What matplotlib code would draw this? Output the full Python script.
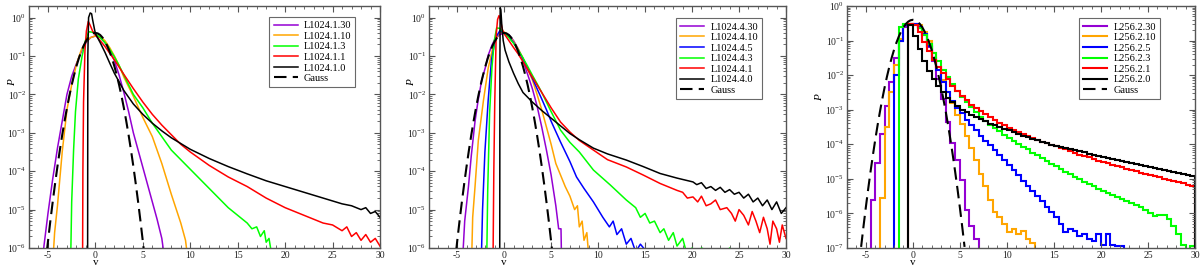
import numpy as np
import matplotlib
matplotlib.use("Agg")
import matplotlib.pyplot as plt
from matplotlib.ticker import FixedLocator, NullFormatter, LogFormatterMathtext
from matplotlib.lines import Line2D

plt.rcParams['font.family'] = ['Liberation Serif', 'DejaVu Serif']
plt.rcParams['mathtext.fontset'] = 'custom'
plt.rcParams['mathtext.rm'] = 'Liberation Serif'
plt.rcParams['mathtext.it'] = 'Liberation Serif:italic'
plt.rcParams['axes.unicode_minus'] = False

# ---------------- Gauss reference (log10 P) ----------------
gauss_v = [-5.5, -5.25, -5.0, -4.75, -4.5, -4.25, -4.0, -3.75, -3.5, -3.25, -3.0, -2.75, -2.5, -2.25,
           -2.0, -1.75, -1.5, -1.25, -1.0, -0.75, -0.5, -0.25, 0.0, 0.25, 0.5, 0.75, 1.0, 1.25, 1.5,
           1.75, 2.0, 2.25, 2.5, 2.75, 3.0, 3.25, 3.5, 3.75, 4.0, 4.25, 4.5, 4.75, 5.0, 5.25, 5.5]
gauss_lp = [-6.968, -6.384, -5.828, -5.298, -4.796, -4.321, -3.873, -3.453, -3.059, -2.693, -2.353,
            -2.041, -1.756, -1.498, -1.268, -1.064, -0.888, -0.738, -0.616, -0.521, -0.453, -0.413,
            -0.399, -0.413, -0.453, -0.521, -0.616, -0.738, -0.888, -1.064, -1.268, -1.498, -1.756,
            -2.041, -2.353, -2.693, -3.059, -3.453, -3.873, -4.321, -4.796, -5.298, -5.828, -6.384, -6.968]

# ---------------- Panel 1: L1024.1.x (log10 P) ----------------
p1_labels = ['L1024.1.30', 'L1024.1.10', 'L1024.1.3', 'L1024.1.1', 'L1024.1.0']
p1_v30 = [-5.5, -5.0, -4.5, -4.0, -3.5, -3.0, -2.5, -2.0, -1.5, -1.0, -0.5, 0.0, 0.5, 1.0, 1.5, 2.0,
          2.5, 3.0, 3.5, 4.0, 4.5, 5.0, 5.5, 6.0, 6.5, 7.0, 7.25]
p1_lp30 = [-6.1, -5.1, -4.2, -3.4, -2.7, -2.0, -1.53, -1.2, -0.9, -0.65, -0.52, -0.48, -0.52, -0.65,
           -0.85, -1.12, -1.5, -1.95, -2.45, -3.0, -3.45, -3.9, -4.35, -4.8, -5.25, -5.75, -6.2]
p1_v10 = [-4.45, -4.3, -4.0, -3.5, -3.0, -2.5, -2.0, -1.5, -1.0, -0.5, 0.0, 0.5, 1.0, 1.5, 2.0, 2.5,
          3.0, 4.0, 5.0, 6.0, 7.0, 8.0, 9.0, 9.5, 9.7]
p1_lp10 = [-6.2, -5.6, -4.9, -3.5, -2.4, -1.75, -1.22, -0.85, -0.63, -0.52, -0.48, -0.5, -0.6, -0.78,
           -1.0, -1.25, -1.55, -2.05, -2.6, -3.1, -3.8, -4.6, -5.35, -5.8, -6.2]
p1_v3 = [-2.6, -2.5, -2.3, -2.1, -1.8, -1.4, -1.05, -0.7, -0.3, 0.0, 0.5, 1.0, 1.5, 2.0, 2.5, 3.0,
         3.5, 4.0, 5.0, 6.0, 7.0, 8.0, 9.0, 10.0, 11.0, 12.0, 13.0, 14.0, 15.0, 16.0, 16.5, 17.0,
         17.4, 17.8, 18.0, 18.3, 18.6]
p1_lp3 = [-6.2, -4.8, -3.45, -2.45, -1.6, -1.0, -0.6, -0.37, -0.38, -0.42, -0.52, -0.65, -0.82, -1.02,
          -1.25, -1.5, -1.75, -2.0, -2.35, -2.75, -3.1, -3.45, -3.7, -3.95, -4.2, -4.45, -4.7, -4.95,
          -5.15, -5.35, -5.5, -5.45, -5.7, -5.55, -5.85, -5.75, -6.2]
p1_v1 = [-1.35, -1.32, -1.25, -1.1, -0.95, -0.75, -0.55, -0.3, 0.0, 0.5, 1.0, 2.0, 3.0, 4.0, 5.0, 6.0,
         7.0, 8.0, 9.0, 10.0, 12.0, 14.0, 16.0, 18.0, 20.0, 22.0, 24.0, 25.0, 26.0, 26.5, 27.0, 27.5,
         28.0, 28.5, 29.0, 29.5, 30.0]
p1_lp1 = [-6.2, -4.0, -2.2, -0.85, -0.35, -0.1, -0.2, -0.35, -0.45, -0.6, -0.75, -1.1, -1.48, -1.85,
          -2.2, -2.52, -2.8, -3.05, -3.3, -3.5, -3.85, -4.15, -4.4, -4.7, -4.95, -5.15, -5.35, -5.4,
          -5.55, -5.45, -5.7, -5.6, -5.8, -5.65, -5.85, -5.75, -5.95]
p1_v0 = [-0.82, -0.8, -0.72, -0.55, -0.4, -0.3, -0.1, 0.0, 0.5, 1.0, 1.5, 2.0, 3.0, 4.0, 5.0, 6.0,
         7.0, 8.0, 10.0, 12.0, 14.0, 16.0, 18.0, 20.0, 22.0, 24.0, 26.0, 27.0, 28.0, 28.5, 29.0, 29.5,
         30.0]
p1_lp0 = [-6.2, -1.0, 0.0, 0.12, 0.1, -0.05, -0.3, -0.42, -0.65, -0.9, -1.18, -1.45, -1.9, -2.25,
          -2.52, -2.75, -2.95, -3.13, -3.43, -3.67, -3.88, -4.07, -4.25, -4.4, -4.55, -4.7, -4.85,
          -4.9, -5.0, -4.95, -5.1, -5.05, -5.2]

# ---------------- Panel 2: L1024.4.x (log10 P) ----------------
p2_labels = ['L1024.4.30', 'L1024.4.10', 'L1024.4.5', 'L1024.4.3', 'L1024.4.1', 'L1024.4.0']
p2_v30 = [-4.4, -4.2, -3.8, -3.5, -3.1, -2.8, -2.4, -2.0, -1.7, -1.3, -1.0, -0.5, 0.0, 0.5, 1.0, 1.5,
          2.0, 2.5, 3.0, 3.5, 4.0, 4.5, 5.0, 5.5, 5.8, 6.05, 6.1]
p2_lp30 = [-6.2, -5.3, -4.4, -3.6, -2.7, -2.2, -1.64, -1.3, -0.98, -0.72, -0.57, -0.45, -0.4, -0.45,
           -0.6, -0.82, -1.12, -1.48, -1.85, -2.3, -2.85, -3.45, -4.1, -4.9, -5.5, -5.5, -6.2]
p2_v10 = [-3.45, -3.35, -3.1, -2.75, -2.2, -1.7, -1.15, -0.6, -0.2, 0.2, 0.5, 1.0, 1.5, 2.0, 2.5, 3.0,
          3.5, 4.0, 4.5, 5.0, 5.5, 6.0, 6.5, 7.0, 7.5, 7.8, 8.0, 8.3, 8.5, 8.8, 9.0]
p2_lp10 = [-6.2, -5.2, -4.4, -3.2, -2.15, -1.32, -0.72, -0.42, -0.36, -0.4, -0.47, -0.62, -0.82, -1.05,
           -1.35, -1.62, -2.0, -2.4, -2.85, -3.3, -3.8, -4.1, -4.4, -4.65, -5.0, -4.9, -5.45, -5.3,
           -5.8, -5.6, -6.2]
p2_v5 = [-2.42, -2.3, -2.05, -1.7, -1.35, -0.9, -0.45, -0.1, 0.5, 1.0, 1.5, 2.0, 2.5, 3.0, 3.5, 4.0,
         4.5, 5.0, 6.0, 7.0, 7.7, 8.5, 9.5, 10.5, 11.2, 11.6, 12.0, 12.5, 13.0, 13.5, 14.0, 14.5, 15.0,
         15.5]
p2_lp5 = [-6.2, -5.0, -3.5, -2.15, -1.1, -0.52, -0.34, -0.38, -0.5, -0.65, -0.85, -1.07, -1.32, -1.58,
          -1.85, -2.12, -2.4, -2.7, -3.24, -3.75, -4.15, -4.45, -4.8, -5.2, -5.45, -5.3, -5.65, -5.5,
          -5.9, -5.75, -6.1, -5.9, -6.05, -6.2]
p2_v3 = [-1.85, -1.75, -1.55, -1.3, -1.05, -0.8, -0.5, -0.2, 0.2, 0.5, 1.0, 1.5, 2.0, 2.5, 3.0, 3.5,
         4.0, 5.0, 6.0, 7.0, 8.0, 9.5, 11.3, 13.0, 13.5, 14.0, 14.5, 15.0, 15.5, 16.0, 16.6, 17.0,
         17.5, 18.0, 18.4, 19.0, 19.5, 20.0, 20.5, 21.0, 22.0, 23.0, 24.0, 24.5, 25.0, 27.0, 27.3]
p2_lp3 = [-6.2, -4.5, -2.5, -1.3, -0.6, -0.27, -0.28, -0.35, -0.45, -0.52, -0.67, -0.85, -1.05, -1.27,
          -1.5, -1.72, -1.95, -2.45, -2.93, -3.25, -3.5, -3.97, -4.36, -4.75, -4.85, -4.95, -5.2, -5.1,
          -5.35, -5.3, -5.6, -5.5, -5.8, -5.6, -5.95, -5.75, -6.2, -6.0, -6.3, -6.0, -6.1, -6.3, -6.0,
          -6.3, -6.1, -6.05, -6.2]
p2_v1 = [-1.18, -1.1, -1.0, -0.85, -0.7, -0.55, -0.4, -0.2, 0.0, 0.5, 1.0, 1.5, 2.0, 3.0, 4.0, 5.0,
         6.0, 7.0, 8.0, 9.5, 11.0, 13.0, 14.8, 16.6, 18.4, 19.0, 19.5, 20.1, 20.6, 21.0, 21.5, 22.0,
         22.5, 23.0, 23.7, 24.2, 24.6, 25.0, 25.5, 26.0, 26.4, 26.8, 27.2, 27.6, 28.0, 28.3, 28.6,
         29.0, 29.3, 29.6, 30.0]
p2_lp1 = [-6.2, -4.0, -2.2, -0.45, -0.05, 0.05, -0.05, -0.3, -0.42, -0.6, -0.78, -0.95, -1.15, -1.55,
          -1.95, -2.35, -2.72, -2.98, -3.2, -3.45, -3.7, -3.89, -4.1, -4.32, -4.5, -4.55, -4.7, -4.67,
          -4.8, -4.65, -4.9, -4.85, -4.75, -5.0, -4.95, -5.1, -5.3, -5.0, -5.15, -5.4, -5.05, -5.3,
          -5.6, -5.2, -5.5, -5.9, -5.3, -5.5, -5.85, -5.4, -5.75]
p2_v0 = [-0.47, -0.45, -0.42, -0.35, -0.25, -0.1, 0.1, 0.5, 1.0, 1.5, 2.0, 3.0, 4.0, 5.0, 6.0, 7.0,
         8.0, 9.5, 11.0, 13.0, 14.8, 16.6, 18.4, 20.1, 20.5, 21.0, 21.5, 22.0, 22.5, 23.0, 23.5, 24.0,
         24.5, 25.0, 25.5, 26.0, 26.5, 27.0, 27.5, 28.0, 28.5, 29.0, 29.5, 30.0]
p2_lp0 = [-6.2, -1.0, 0.26, 0.2, -0.2, -0.6, -0.85, -1.15, -1.45, -1.72, -1.95, -2.2, -2.42, -2.62,
          -2.82, -3.02, -3.18, -3.4, -3.55, -3.71, -3.88, -4.06, -4.18, -4.28, -4.35, -4.3, -4.45,
          -4.4, -4.5, -4.42, -4.55, -4.48, -4.6, -4.55, -4.7, -4.6, -4.8, -4.7, -4.9, -4.75, -5.0,
          -4.8, -5.1, -4.95]

# ---------------- Panel 3: L256.2.x histograms, bin width 0.5 (log10 P) ----------------
p3_labels = ['L256.2.30', 'L256.2.10', 'L256.2.5', 'L256.2.3', 'L256.2.1', 'L256.2.0']
p3_binw = 0.5
p3_start = [-4.5, -3.5, -2.0, -1.5, -0.5, -0.5]
p3_lp30 = [-5.6, -4.55, -3.7, -2.9, -2.2, -1.5, -1.0, -0.6, -0.52, -0.52, -0.6, -0.85, -1.2, -1.6,
           -2.1, -2.7, -3.35, -3.97, -4.45, -5.03, -5.9, -6.37, -6.75]
p3_lp10 = [-5.55, -3.5, -2.5, -1.7, -0.95, -0.55, -0.52, -0.52, -0.55, -0.75, -1.0, -1.35, -1.75,
           -2.15, -2.5, -2.8, -3.15, -3.4, -3.75, -4.1, -4.45, -4.85, -5.2, -5.6, -5.95, -6.1, -6.3,
           -6.55, -6.45, -6.6, -6.5, -6.75, -6.85]
p3_lp5 = [-2.0, -1.0, -0.55, -0.52, -0.52, -0.6, -0.8, -1.15, -1.5, -1.85, -2.2, -2.5, -2.75, -2.95,
          -3.1, -3.3, -3.45, -3.6, -3.75, -3.9, -4.03, -4.16, -4.3, -4.45, -4.6, -4.75, -4.9, -5.05,
          -5.2, -5.35, -5.5, -5.65, -5.8, -5.95, -6.1, -6.3, -6.55, -6.45, -6.5, -6.65, -6.6, -6.75,
          -6.8, -6.6, -6.9, -6.6, -6.9, -6.95, -6.95]
p3_lp3 = [-0.6, -0.52, -0.52, -0.55, -0.65, -0.85, -1.1, -1.35, -1.6, -1.85, -2.05, -2.25, -2.45,
          -2.62, -2.78, -2.93, -3.07, -3.2, -3.32, -3.43, -3.53, -3.63, -3.72, -3.81, -3.9, -3.99,
          -4.07, -4.15, -4.24, -4.32, -4.4, -4.48, -4.56, -4.64, -4.72, -4.8, -4.87, -4.94, -5.01,
          -5.08, -5.15, -5.22, -5.28, -5.35, -5.4, -5.46, -5.52, -5.58, -5.63, -5.69, -5.75, -5.82,
          -5.9, -5.98, -6.08, -6.05, -6.05, -6.15, -6.35, -6.6, -6.9, -7.2, -6.95]
p3_lp1 = [-0.52, -0.55, -0.75, -1.05, -1.3, -1.55, -1.75, -1.95, -2.12, -2.3, -2.45, -2.6, -2.72,
          -2.85, -2.95, -3.05, -3.13, -3.22, -3.3, -3.38, -3.45, -3.52, -3.58, -3.64, -3.7, -3.76,
          -3.82, -3.87, -3.92, -3.97, -4.02, -4.06, -4.1, -4.15, -4.2, -4.25, -4.3, -4.34, -4.38,
          -4.43, -4.47, -4.51, -4.55, -4.59, -4.63, -4.67, -4.71, -4.75, -4.78, -4.82, -4.86, -4.89,
          -4.92, -4.96, -4.99, -5.03, -5.06, -5.1, -5.13, -5.17, -5.2]
p3_lp0 = [-0.55, -0.86, -1.25, -1.6, -1.88, -2.12, -2.32, -2.5, -2.65, -2.78, -2.9, -3.0, -3.08,
          -3.15, -3.22, -3.28, -3.34, -3.4, -3.45, -3.5, -3.55, -3.6, -3.65, -3.7, -3.75, -3.8, -3.85,
          -3.89, -3.93, -3.97, -4.01, -4.04, -4.07, -4.1, -4.14, -4.17, -4.2, -4.23, -4.27, -4.3,
          -4.33, -4.36, -4.39, -4.42, -4.45, -4.48, -4.51, -4.54, -4.57, -4.6, -4.63, -4.66, -4.69,
          -4.72, -4.75, -4.78, -4.8, -4.83, -4.86, -4.88, -4.91]

# ---------------- styling ----------------
c_purple = '#9400d3'
c_orange = '#ffa500'
c_blue = '#0000ff'
c_green = '#00ff00'
c_red = '#ff0000'
c_black = '#000000'
frame_col = '#555555'

fig = plt.figure(figsize=(12, 2.69), dpi=100)
W, H = 1200.0, 269.0
def add_axes(l, r, t=6, b=248):
    return fig.add_axes([l / W, 1 - b / H, (r - l) / W, (b - t) / H])

ax1 = add_axes(29, 380)
ax2 = add_axes(429, 786)
ax3 = add_axes(847, 1195)

def style(ax, xlim, ylim, ylab_pos):
    ax.set_yscale('log')
    ax.set_xlim(*xlim)
    ax.set_ylim(*ylim)
    xmaj = [t for t in range(-10, 31, 5) if xlim[0] <= t <= xlim[1]]
    xmin = [t for t in range(-10, 31) if xlim[0] <= t <= xlim[1] and t % 5 != 0]
    ax.xaxis.set_major_locator(FixedLocator(xmaj))
    ax.xaxis.set_minor_locator(FixedLocator(xmin))
    e0, e1 = int(round(np.log10(ylim[0]))), int(np.floor(np.log10(ylim[1])))
    ymaj = [10.0 ** e for e in range(e0, e1 + 1)]
    ymin = [m * 10.0 ** e for e in range(e0, e1 + 1) for m in range(2, 10)
            if m * 10.0 ** e <= ylim[1]]
    ax.yaxis.set_major_locator(FixedLocator(ymaj))
    ax.yaxis.set_minor_locator(FixedLocator(ymin))
    ax.yaxis.set_minor_formatter(NullFormatter())
    ax.yaxis.set_major_formatter(LogFormatterMathtext())
    ax.tick_params(which='both', direction='in', top=True, right=True, colors=frame_col,
                   labelcolor='#222222', labelsize=7, pad=2)
    ax.tick_params(which='major', length=4, width=0.8)
    ax.tick_params(which='minor', length=2, width=0.6)
    for s in ax.spines.values():
        s.set_color(frame_col)
        s.set_linewidth(1.0)
    ax.set_xlabel('v', fontsize=8)
    ax.set_ylabel('P', fontsize=8, style='italic')
    x0 = (0 - xlim[0]) / (xlim[1] - xlim[0])
    ax.xaxis.set_label_coords(x0, -0.042)
    ax.yaxis.set_label_coords(*ylab_pos)

def lin(lp):
    return 10.0 ** np.asarray(lp)

def gauss(ax, lw=1.5):
    ax.plot(gauss_v, lin(gauss_lp), color='k', lw=lw, dashes=(6, 3), label='Gauss', zorder=5)

leg_kw = dict(loc='upper right', fontsize=7.5, frameon=True, fancybox=False, edgecolor='#444444',
              handlelength=2.3, handletextpad=0.6, labelspacing=0.12, borderpad=0.4, borderaxespad=0)

# Panel 1
lw1 = 1.1
ax1.plot(p1_v30, lin(p1_lp30), color=c_purple, lw=lw1, label=p1_labels[0])
ax1.plot(p1_v10, lin(p1_lp10), color=c_orange, lw=lw1, label=p1_labels[1])
ax1.plot(p1_v3, lin(p1_lp3), color=c_green, lw=lw1, label=p1_labels[2])
ax1.plot(p1_v1, lin(p1_lp1), color=c_red, lw=lw1, label=p1_labels[3])
ax1.plot(p1_v0, lin(p1_lp0), color=c_black, lw=lw1, label=p1_labels[4])
gauss(ax1)
style(ax1, (-7, 30), (1e-6, 2), (-0.035, 0.685))
ax1.legend(bbox_to_anchor=(0.93, 0.955), **leg_kw).get_frame().set_linewidth(0.8)

# Panel 2
ax2.plot(p2_v30, lin(p2_lp30), color=c_purple, lw=lw1, label=p2_labels[0])
ax2.plot(p2_v10, lin(p2_lp10), color=c_orange, lw=lw1, label=p2_labels[1])
ax2.plot(p2_v5, lin(p2_lp5), color=c_blue, lw=lw1, label=p2_labels[2])
ax2.plot(p2_v3, lin(p2_lp3), color=c_green, lw=lw1, label=p2_labels[3])
ax2.plot(p2_v1, lin(p2_lp1), color=c_red, lw=lw1, label=p2_labels[4])
ax2.plot(p2_v0, lin(p2_lp0), color=c_black, lw=lw1, label=p2_labels[5])
gauss(ax2)
style(ax2, (-8, 30), (1e-6, 2), (-0.035, 0.685))
ax2.legend(bbox_to_anchor=(0.933, 0.95), **leg_kw).get_frame().set_linewidth(0.8)

# Panel 3 (histograms)
p3_series = [p3_lp30, p3_lp10, p3_lp5, p3_lp3, p3_lp1, p3_lp0]
p3_colors = [c_purple, c_orange, c_blue, c_green, c_red, c_black]
for vals, st, col, lab in zip(p3_series, p3_start, p3_colors, p3_labels):
    edges = st + p3_binw * np.arange(len(vals) + 1)
    ax3.stairs(lin(vals), edges, baseline=1e-9, fill=False, color=col, lw=1.5, label=lab)
gauss(ax3)
style(ax3, (-7, 30), (1e-7, 1), (-0.065, 0.62))
h, l = ax3.get_legend_handles_labels()
hh = [Line2D([], [], color=c, lw=1.5) for c in p3_colors] + [h[-1]]
ax3.legend(hh, l, bbox_to_anchor=(0.9, 0.95), **leg_kw).get_frame().set_linewidth(0.8)

fig.savefig('out.png', dpi=100)
